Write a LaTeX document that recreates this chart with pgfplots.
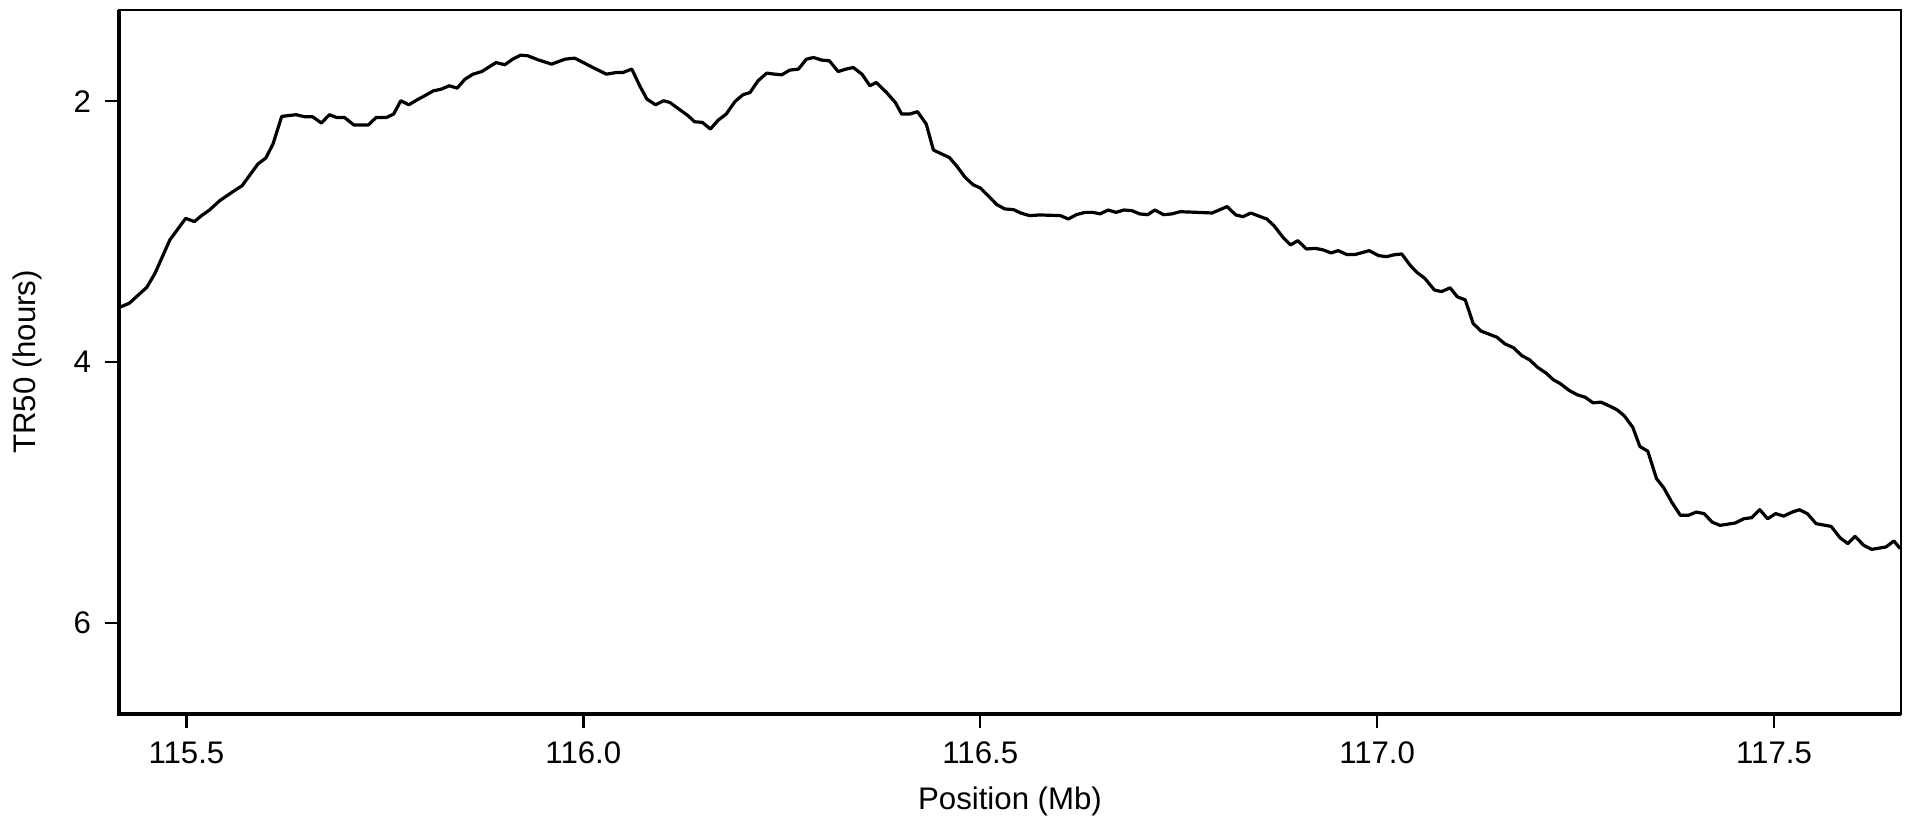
\documentclass[border=0pt]{standalone}
\usepackage{pgfplots}
\pgfplotsset{compat=1.18}
\usepackage{fontspec}
\setmainfont{Liberation Sans}

\pgfplotstableread{
pos tr50
115.416 3.580
115.428 3.549
115.450 3.427
115.460 3.324
115.479 3.064
115.499 2.898
115.510 2.923
115.519 2.877
115.529 2.834
115.542 2.762
115.559 2.691
115.570 2.648
115.590 2.481
115.600 2.435
115.609 2.328
115.620 2.116
115.638 2.103
115.649 2.119
115.659 2.119
115.670 2.167
115.680 2.103
115.689 2.124
115.699 2.124
115.711 2.182
115.729 2.182
115.739 2.124
115.752 2.124
115.761 2.098
115.770 1.996
115.780 2.027
115.790 1.991
115.800 1.958
115.811 1.920
115.821 1.907
115.831 1.881
115.841 1.899
115.851 1.830
115.861 1.792
115.872 1.772
115.890 1.703
115.901 1.720
115.911 1.677
115.921 1.646
115.930 1.651
115.943 1.682
115.960 1.715
115.977 1.677
115.989 1.669
116.000 1.703
116.012 1.741
116.029 1.792
116.042 1.779
116.050 1.779
116.061 1.753
116.071 1.881
116.080 1.983
116.091 2.027
116.101 1.996
116.109 2.009
116.122 2.067
116.132 2.111
116.140 2.157
116.150 2.162
116.160 2.213
116.170 2.144
116.180 2.098
116.191 2.002
116.201 1.950
116.210 1.933
116.220 1.843
116.231 1.784
116.241 1.792
116.250 1.797
116.260 1.761
116.271 1.753
116.281 1.677
116.290 1.664
116.300 1.684
116.310 1.690
116.321 1.772
116.331 1.753
116.340 1.741
116.351 1.792
116.361 1.881
116.369 1.856
116.382 1.933
116.393 2.009
116.401 2.098
116.411 2.098
116.421 2.080
116.432 2.175
116.441 2.374
116.449 2.397
116.461 2.431
116.470 2.494
116.481 2.584
116.491 2.640
116.500 2.665
116.511 2.732
116.521 2.793
116.531 2.826
116.542 2.831
116.551 2.857
116.562 2.877
116.575 2.872
116.601 2.877
116.611 2.903
116.621 2.870
116.632 2.852
116.642 2.852
116.651 2.864
116.661 2.834
116.671 2.852
116.681 2.834
116.691 2.839
116.701 2.864
116.711 2.870
116.720 2.834
116.731 2.870
116.741 2.864
116.752 2.847
116.773 2.852
116.792 2.857
116.811 2.808
116.822 2.872
116.831 2.885
116.841 2.857
116.852 2.883
116.861 2.903
116.870 2.954
116.882 3.048
116.891 3.102
116.900 3.069
116.911 3.133
116.922 3.128
116.932 3.140
116.942 3.163
116.951 3.146
116.962 3.176
116.972 3.176
116.990 3.146
117.002 3.184
117.012 3.192
117.020 3.179
117.031 3.171
117.042 3.261
117.050 3.312
117.060 3.358
117.072 3.447
117.081 3.460
117.092 3.431
117.101 3.500
117.111 3.523
117.121 3.705
117.131 3.763
117.151 3.810
117.161 3.861
117.172 3.891
117.182 3.950
117.192 3.983
117.202 4.040
117.213 4.086
117.222 4.136
117.231 4.167
117.242 4.218
117.252 4.251
117.262 4.270
117.272 4.313
117.282 4.308
117.294 4.341
117.302 4.366
117.311 4.410
117.322 4.500
117.331 4.648
117.341 4.684
117.352 4.895
117.361 4.964
117.371 5.074
117.382 5.176
117.392 5.176
117.402 5.151
117.412 5.163
117.422 5.228
117.432 5.253
117.451 5.235
117.462 5.202
117.472 5.194
117.482 5.133
117.492 5.202
117.502 5.163
117.512 5.182
117.523 5.151
117.532 5.133
117.542 5.163
117.553 5.240
117.572 5.261
117.583 5.347
117.593 5.393
117.602 5.337
117.613 5.406
117.623 5.437
117.641 5.419
117.651 5.373
117.659 5.431
}\trdata

\begin{document}
\begin{tikzpicture}
\begin{axis}[
    name=ax,
    scale only axis,
    width=445.5pt, height=176pt,
    xmin=115.415, xmax=117.66,
    ymin=1.3, ymax=6.7,
    y dir=reverse,
    xtick={115.5,116.0,116.5,117.0,117.5},
    ytick={2,4,6},
    xticklabel style={/pgf/number format/fixed, /pgf/number format/fixed zerofill, /pgf/number format/precision=1},
    /pgf/number format/assume math mode=true,
    tick align=outside,
    major tick length=3.5pt,
    xtick pos=bottom, ytick pos=left,
    tick style={black, line width=0.6pt},
    axis line style={line width=0.6pt},
    ticklabel style={font=\fontsize{7.8}{9}\selectfont},
    label style={font=\fontsize{7.8}{9}\selectfont, inner sep=0pt},
    xlabel={Position (Mb)},
    ylabel={TR50 (hours)},
    xlabel style={at={(axis description cs:0.5,-0.1236)}, anchor=center},
    ylabel style={at={(axis description cs:-0.0516,0.5)}, anchor=center},
    clip=true,
]
\addplot[black, line width=0.8pt, line join=round] table[x=pos, y=tr50] {\trdata};
\end{axis}
\draw[line width=1.1pt] (ax.north west) -- (ax.south west) -- (ax.south east);
\path (ax.south west) ++(-29.75pt,-27pt);
\path (ax.north east) ++(3.25pt,2.5pt);
\end{tikzpicture}
\end{document}
